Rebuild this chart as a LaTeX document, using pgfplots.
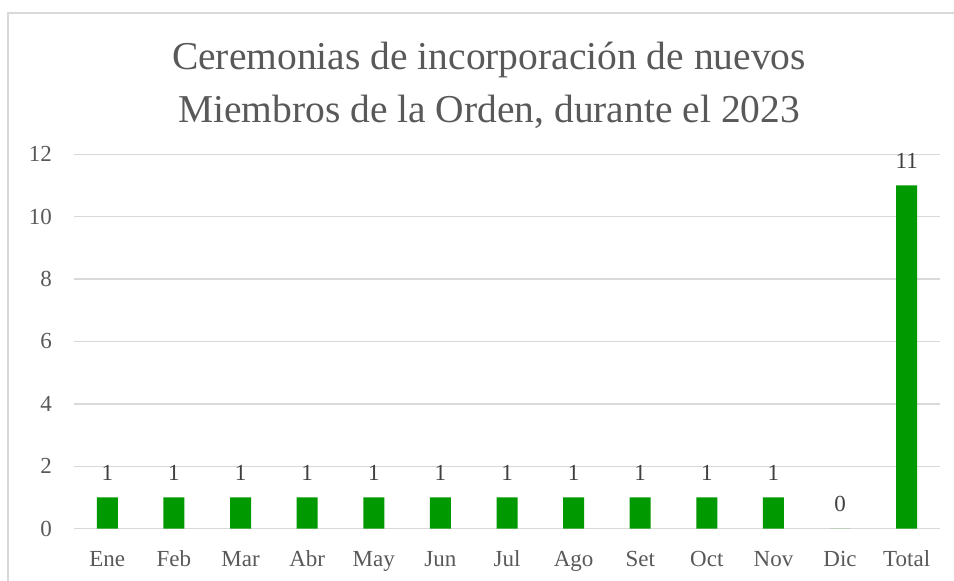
\documentclass[border=0pt]{standalone}
\usepackage{pgfplots}
\pgfplotsset{compat=1.18}
\pgfplotsset{/pgf/number format/assume math mode=true}
\usepackage{fontspec}
\setmainfont{Liberation Serif}
\definecolor{txt}{HTML}{595959}
\definecolor{lbl}{HTML}{404040}
\definecolor{grd}{HTML}{D9D9D9}
\definecolor{barc}{HTML}{009900}
\begin{document}
\begin{tikzpicture}[x=1pt,y=1pt]
\useasboundingbox (0,0) rectangle (954,581);
\begin{scope}
\clip (0,0) rectangle (954,581);
\fill[white] (0,0) rectangle (954,581);
\draw[grd, line width=1.5pt] (8,-10) -- (8,568) -- (960,568);
\end{scope}
\node[txt, font=\fontsize{39.5}{46}\selectfont, anchor=base, inner sep=0pt] at (489,511) {Ceremonias de incorporación de nuevos};
\node[txt, font=\fontsize{39.5}{46}\selectfont, anchor=base, inner sep=0pt] at (489,458) {Miembros de la Orden, durante el 2023};
\begin{axis}[
  at={(74pt,52.3pt)}, anchor=south west,
  scale only axis, width=866pt, height=374.4pt,
  xmin=-0.5, xmax=12.5, ymin=0, ymax=12,
  ytick={0,2,4,6,8,10,12},
  xtick={0,1,2,3,4,5,6,7,8,9,10,11,12},
  xticklabels={Ene,Feb,Mar,Abr,May,Jun,Jul,Ago,Set,Oct,Nov,Dic,Total},
  axis line style={draw=none},
  major tick length=0pt,
  ymajorgrids, grid style={grd, line width=1.3pt},
  tick label style={txt, font=\fontsize{23}{27}\selectfont, inner sep=0pt},
  xticklabel style={anchor=base, yshift=-38pt},
  yticklabel style={anchor=east, xshift=-22pt},
  ybar, bar width=21pt,
  nodes near coords,
  every node near coord/.append style={lbl, font=\fontsize{23}{27}\selectfont, anchor=base, yshift=17pt, inner sep=0pt},
  clip=false,
]
\addplot[fill=barc, draw=none] coordinates {(0,1) (1,1) (2,1) (3,1) (4,1) (5,1) (6,1) (7,1) (8,1) (9,1) (10,1) (11,0) (12,11)};
\end{axis}
\end{tikzpicture}
\end{document}
